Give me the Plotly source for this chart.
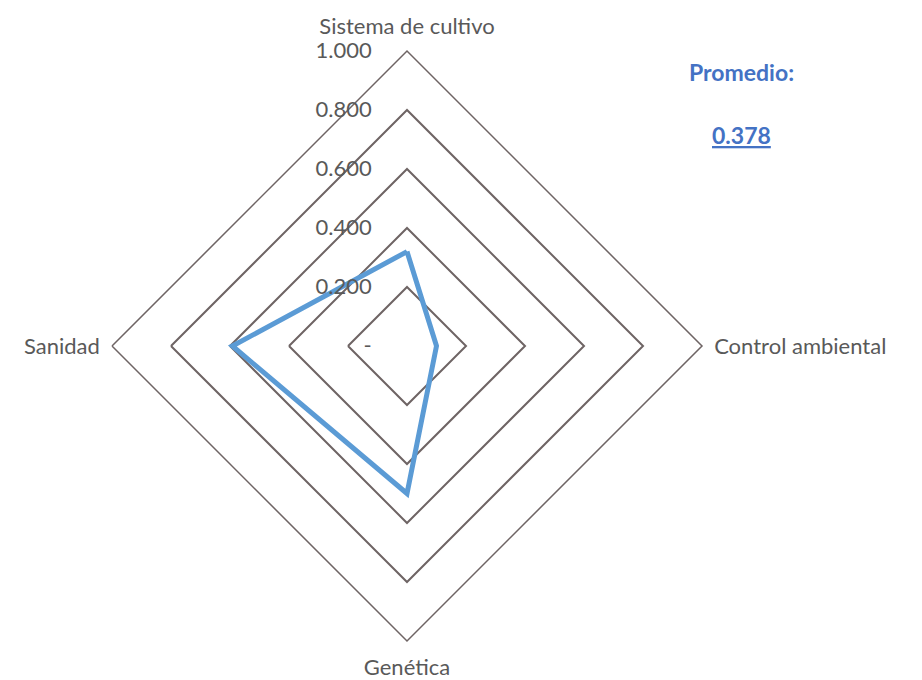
import plotly.graph_objects as go

# Radar chart: evaluation by dimension
categories = ["Sistema de cultivo", "Control ambiental", "Genética", "Sanidad"]
values = [0.32, 0.10, 0.50, 0.592]

tick_vals = [0, 0.2, 0.4, 0.6, 0.8, 1.0]
tick_text = ["-", "0.200", "0.400", "0.600", "0.800", "1.000"]

average = sum(values) / len(values)

grid_color = "#6e6464"
text_color = "#595959"
font_family = "Lato"

fig = go.Figure()
fig.add_trace(go.Scatterpolar(
    r=values + values[:1],
    theta=categories + categories[:1],
    mode="lines",
    line=dict(color="#5b9bd5", width=5),
    hoverinfo="skip",
    showlegend=False,
))

L, R, T, B = 112, 220, 51, 39
W, H = 922, 680

fig.update_layout(
    width=W,
    height=H,
    margin=dict(l=L, r=R, t=T, b=B),
    paper_bgcolor="white",
    plot_bgcolor="white",
    font=dict(family=font_family, color=text_color, size=22),
    polar=dict(
        bgcolor="white",
        gridshape="linear",
        radialaxis=dict(
            range=[0, 1],
            angle=90,
            side="counterclockwise",
            tickvals=tick_vals,
            ticktext=tick_text,
            tickangle=90,
            ticks="outside",
            ticklen=27,
            tickcolor="rgba(0,0,0,0)",
            showline=False,
            showgrid=True,
            gridcolor=grid_color,
            gridwidth=1.5,
            tickfont=dict(family=font_family, size=22, color=text_color),
        ),
        angularaxis=dict(
            direction="clockwise",
            rotation=90,
            showgrid=False,
            showline=True,
            linecolor=grid_color,
            linewidth=1.5,
            ticks="outside",
            ticklen=7,
            tickcolor="rgba(0,0,0,0)",
            tickfont=dict(family=font_family, size=22, color=text_color),
        ),
    ),
)

# summary box, positioned in pixels relative to the plotting area
def px_to_paper(px, py):
    return (px - L) / (W - L - R), ((H - py) - B) / (H - T - B)

for label, (px, py) in [("<b>Promedio:</b>", (741, 72)),
                        (f"<b><u>{average:.3f}</u></b>", (741, 135))]:
    x, y = px_to_paper(px, py)
    fig.add_annotation(
        text=label, x=x, y=y, xref="paper", yref="paper",
        xanchor="center", yanchor="middle", showarrow=False,
        font=dict(family=font_family, size=23, color="#4472c4"),
    )

fig.write_html("out.html")
